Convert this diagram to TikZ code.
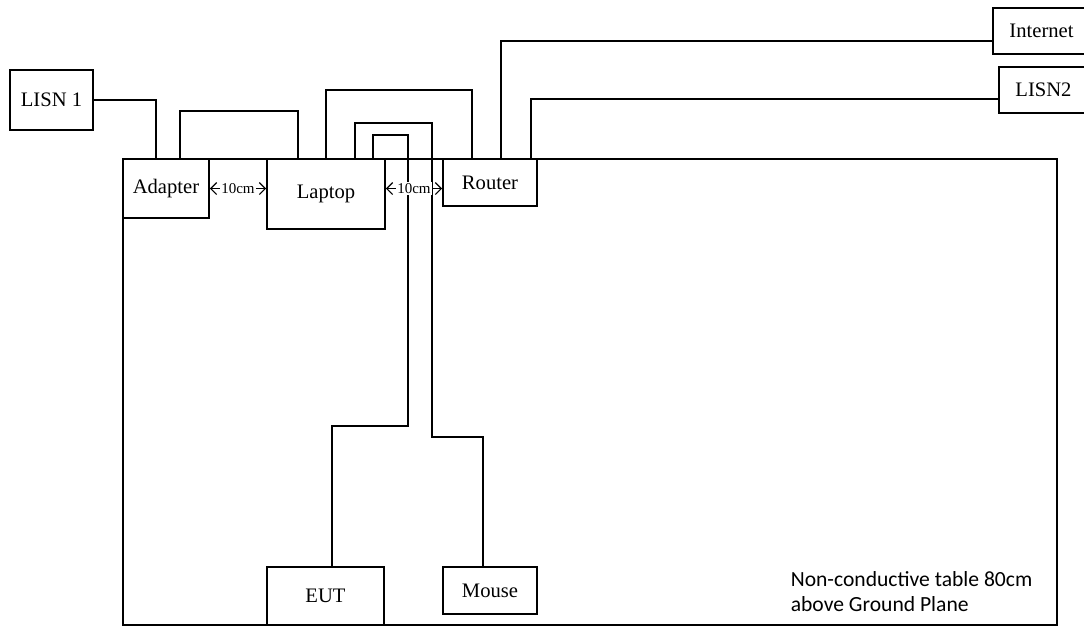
\documentclass[tikz,border=0pt]{standalone}
\usepackage{fontspec}
\setmainfont{Liberation Serif}
\newfontfamily\tablefont{Carlito}
\usetikzlibrary{positioning, arrows.meta}

\tikzset{
	unit/.style={rectangle, draw, inner sep=0pt, font=\fontsize{10.3}{12}\selectfont},
	wire/.style={line width=0.8pt},
	gap/.style={<->, line width=0.6pt, >={Straight Barb[length=3pt,width=6pt]}},
}

\begin{document}
\begin{tikzpicture}[x=0.5pt, y=-0.5pt, line width=0.8pt]
		\useasboundingbox (0,0) rectangle (1084,628);
		
		% table
		\node[rectangle, draw, minimum width=467pt, minimum height=233pt] (table) at (590,392) {};
		\node[anchor=north west, align=left, font=\tablefont\fontsize{10.8}{12.5}\selectfont, inner sep=0pt] (note) at (790,571) {Non-conductive table 80cm\\above Ground Plane};
		
		% units on the table
		\node[unit, minimum width=43pt, minimum height=29.5pt] (adapter) at (166,188.5) {Adapter};
		\node[unit, minimum width=59pt, minimum height=35pt] (laptop) at (326,194) {Laptop};
		\node[unit, minimum width=47pt, minimum height=23.5pt] (router) at (490,182.5) {Router};
		\node[unit, minimum width=58.5pt, minimum height=29pt] (eut) at (325.5,596) {EUT};
		\node[unit, minimum width=47pt, minimum height=23.5pt] (mouse) at (490,590.5) {Mouse};
		
		% units off the table
		\node[unit, minimum width=41.5pt, minimum height=30pt] (lisn1) at (51.5,100) {LISN 1};
		\node[unit, minimum width=48.5pt, minimum height=23pt] (internet) at (1041.5,31) {Internet};
		\node[unit, minimum width=44.5pt, minimum height=23pt] (lisn2) at (1043.5,90) {LISN2};
		
		% cables
		\coordinate (mouse-turn) at (432,437);
		\coordinate (eut-turn) at (408,426);
		
		\draw[wire] (lisn1.east) -| ([xshift=-5pt]adapter.north);
		\draw[wire] ([xshift=7pt]adapter.north) -- ++(0,-47) -| ([xshift=-14pt]laptop.north);
		\draw[wire] (laptop.north) -- ++(0,-68) -| ([xshift=-9pt]router.north);
		\draw[wire] ([xshift=14.5pt]laptop.north) -- ++(0,-35) -| (mouse-turn) -| ([xshift=-3.5pt]mouse.north);
		\draw[wire] ([xshift=23.5pt]laptop.north) -- ++(0,-23) -| (eut-turn) -| ([xshift=3.25pt]eut.north);
		\draw[wire] ([xshift=5.5pt]router.north) |- ([yshift=-5pt]internet.west);
		\draw[wire] ([xshift=20.5pt]router.north) |- ([yshift=-4.5pt]lisn2.west);
		
		% spacing
		\draw[gap] (adapter.east) -- node[fill=white, inner sep=0.5pt, font=\fontsize{7.5}{8}\selectfont] (gap1) {10cm} (adapter.east -| laptop.west);
		\draw[gap] (laptop.east |- adapter.east) -- node[fill=white, inner sep=0.5pt, font=\fontsize{7.5}{8}\selectfont] (gap2) {10cm} (router.west |- adapter.east);
		
	\end{tikzpicture}
\end{document}
